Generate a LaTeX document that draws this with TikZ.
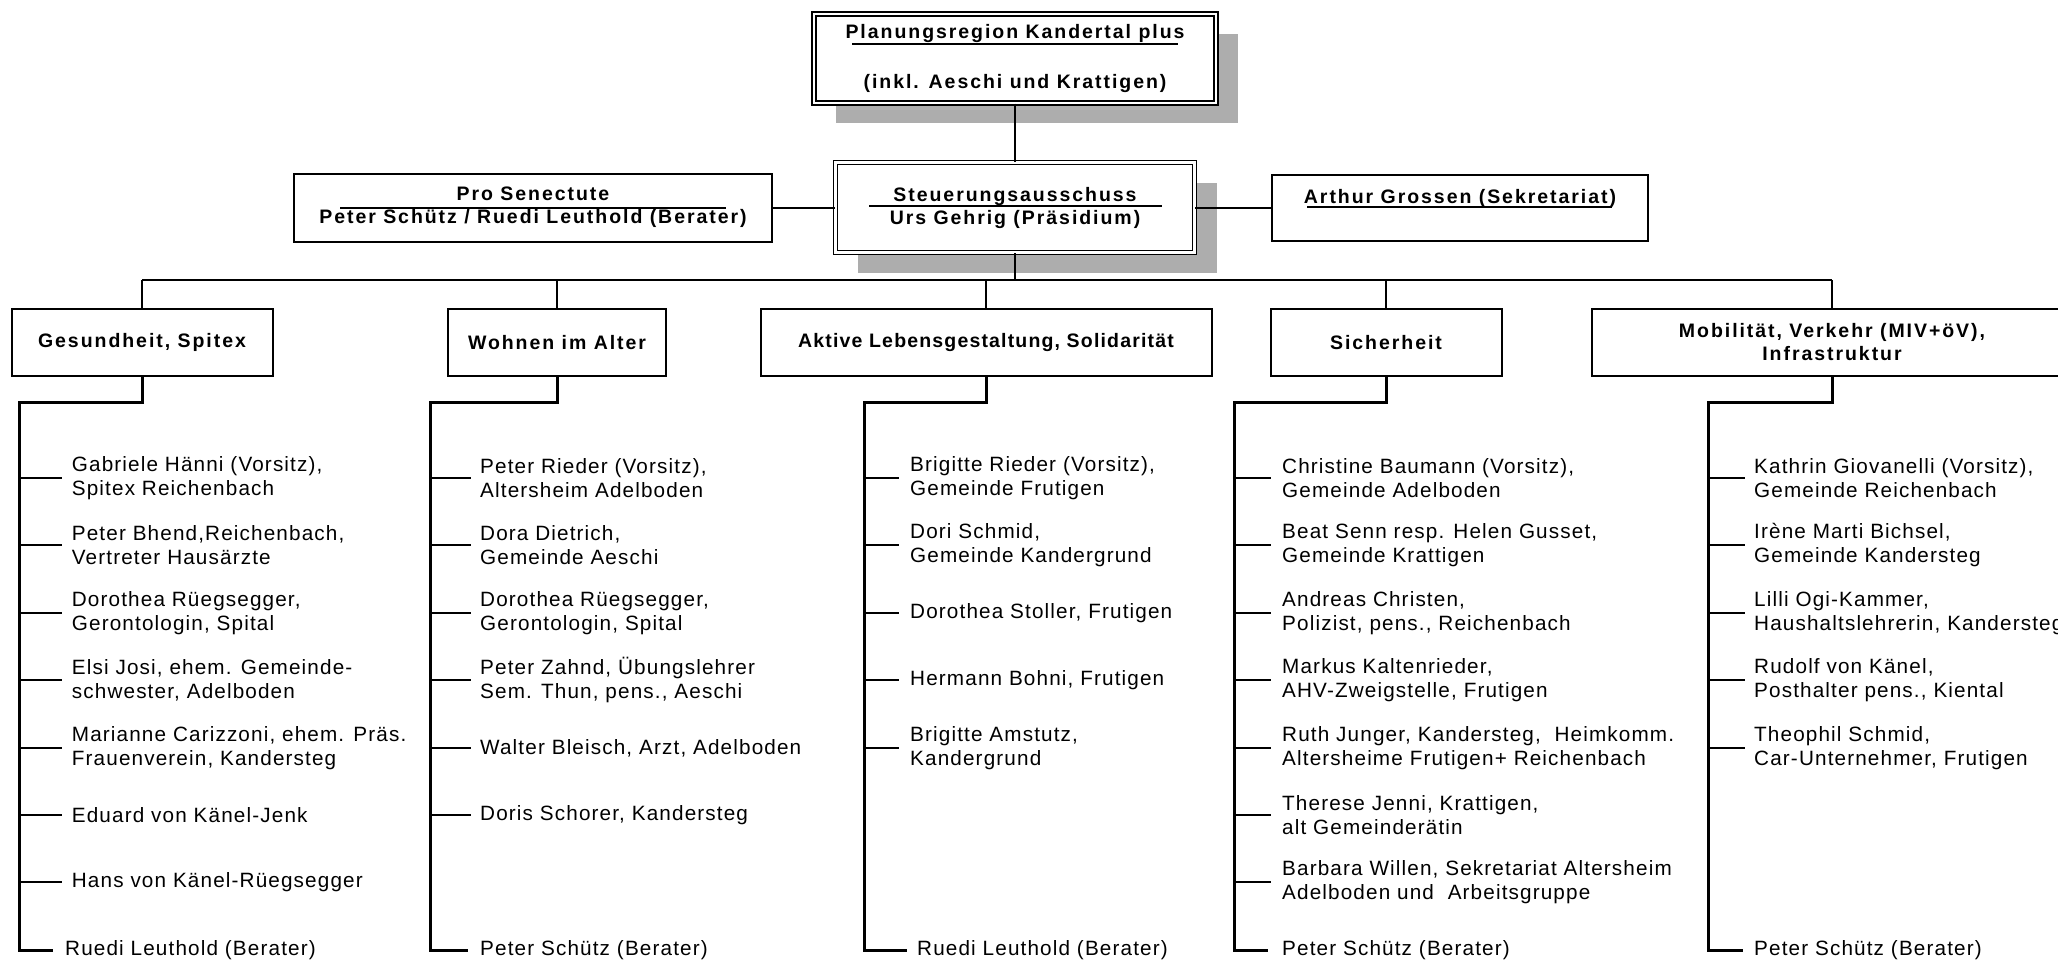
\documentclass[tikz,border=0pt]{standalone}
\usepackage{fontspec}
\setmainfont{Liberation Sans}
\newfontfamily\boxfont[LetterSpace=10]{Liberation Sans}
\newfontfamily\listfont[LetterSpace=5.5]{Liberation Sans}
\usetikzlibrary{positioning, shadows}

\tikzset{
  orgbox/.style={draw, fill=white, line width=2pt, rectangle, inner sep=0pt, align=center,
    font=\boxfont\bfseries\fontsize{19.5}{23}\selectfont},
  headbox/.style={orgbox, double, line width=1.3pt, double distance=2.6pt,
    drop shadow={shadow xshift=22pt, shadow yshift=-20pt, fill=black!32, opacity=1}},
  member/.style={anchor=west, inner sep=0pt, align=left,
    font=\listfont\fontsize{20.7}{24}\selectfont},
  uline/.style={line width=1.5pt},
  busline/.style={line width=2pt},
  stem/.style={line width=3pt},
  twig/.style={line width=2pt}
}

\begin{document}
\begin{tikzpicture}[x=1pt, y=-1pt]
  \useasboundingbox (0,0) rectangle (2058,961);
  \fill[white] (0,0) rectangle (2058,961);
  \clip (0,0) rectangle (2058,961);

  % Leitung
  \node[headbox, minimum width=402pt, minimum height=89pt] (plan) at (1015,58.5)
    {Planungsregion Kandertal plus\\[27pt](inkl. Aeschi und Krattigen)};
  \node[headbox, minimum width=359pt, minimum height=90pt] (steu) at (1015,207.5)
    {Steuerungsausschuss\\Urs Gehrig (Präsidium)};
  \node[orgbox, minimum width=478pt, minimum height=68pt] (pro) at (533,207.5)
    {Pro Senectute\\Peter Schütz / Ruedi Leuthold (Berater)};
  \node[orgbox, minimum width=376pt, minimum height=66pt] (arthur) at (1460,207.5)
    {Arthur Grossen (Sekretariat)\\\mbox{}};

  \draw[uline] (852,44) -- (1178,44);
  \draw[uline] (869,206) -- (1162,206);
  \draw[uline] (340,208) -- (726,208);
  \draw[uline] (1307,207) -- (1612,207);

  \draw[busline] (plan) -- (steu);
  \draw[busline] (pro) -- (steu);
  \draw[busline] (steu) -- (arthur);

  % Arbeitsgruppen
  \node[orgbox, minimum width=261pt, minimum height=67pt] (gesund) at (142,342.5) {Gesundheit, Spitex};
  \node[orgbox, minimum width=218pt, minimum height=67pt] (wohnen) at (557,342.5) {Wohnen im Alter};
  \node[orgbox, minimum width=451pt, minimum height=67pt] (aktiv) at (986,342.5)
    {\addfontfeatures{LetterSpace=6}Aktive Lebensgestaltung, Solidarität};
  \node[orgbox, minimum width=231pt, minimum height=67pt] (sicher) at (1386,342.5) {Sicherheit};
  \node[orgbox, minimum width=480pt, minimum height=67pt] (mobil) at (1832,342.5)
    {Mobilität, Verkehr (MIV+öV),\\Infrastruktur};

  \coordinate (busy) at (0,280);
  \draw[busline] (steu.south) -- (steu.south |- busy);
  \draw[busline] (gesund.north |- busy) -- (mobil.north |- busy);
  \foreach \b in {gesund, wohnen, aktiv, sicher, mobil} {
    \draw[busline] (\b.north |- busy) -- (\b.north);
  }

  % Gesundheit, Spitex
  \coordinate (gesund-top) at (19.5,402.5);
  \node[member] (gesund-b) at (65,950) {Ruedi Leuthold (Berater)};
  \draw[stem] (gesund.south) |- (gesund-top) |- ([xshift=-12pt]gesund-b.west);
  \foreach \txt [count=\k from 0] in {
      {Gabriele Hänni (Vorsitz),\\Spitex Reichenbach},
      {Peter Bhend,Reichenbach,\\Vertreter Hausärzte},
      {Dorothea Rüegsegger,\\Gerontologin, Spital},
      {Elsi Josi, ehem. Gemeinde-\\schwester, Adelboden},
      {Marianne Carizzoni, ehem. Präs.\\Frauenverein, Kandersteg},
      {Eduard von Känel-Jenk},
      {Hans von Känel-Rüegsegger}} {
    \node[member] (gesund-\k) at (71.7,{round(478+67.4*\k)}) {\txt};
    \draw[twig] (gesund-\k.west -| gesund-top) -- ([xshift=-10pt]gesund-\k.west);
  }

  % Wohnen im Alter
  \coordinate (wohnen-top) at (430.5,402.5);
  \node[member] (wohnen-b) at (480,950) {Peter Schütz (Berater)};
  \draw[stem] (wohnen.south) |- (wohnen-top) |- ([xshift=-12pt]wohnen-b.west);
  \foreach \txt [count=\k from 0] in {
      {Peter Rieder (Vorsitz),\\Altersheim Adelboden},
      {Dora Dietrich,\\Gemeinde Aeschi},
      {Dorothea Rüegsegger,\\Gerontologin, Spital},
      {Peter Zahnd, Übungslehrer\\Sem. Thun, pens., Aeschi},
      {Walter Bleisch, Arzt, Adelboden},
      {Doris Schorer, Kandersteg}} {
    \node[member] (wohnen-\k) at (480,{round(478+67.4*\k)}) {\txt};
    \draw[twig] (wohnen-\k.west -| wohnen-top) -- ([xshift=-9pt]wohnen-\k.west);
  }

  % Aktive Lebensgestaltung
  \coordinate (aktiv-top) at (864.5,402.5);
  \node[member] (aktiv-b) at (917,950) {Ruedi Leuthold (Berater)};
  \draw[stem] (aktiv.south) |- (aktiv-top) |- ([xshift=-10pt]aktiv-b.west);
  \foreach \txt [count=\k from 0] in {
      {Brigitte Rieder (Vorsitz),\\Gemeinde Frutigen},
      {Dori Schmid,\\Gemeinde Kandergrund},
      {Dorothea Stoller, Frutigen},
      {Hermann Bohni, Frutigen},
      {Brigitte Amstutz,\\Kandergrund}} {
    \node[member] (aktiv-\k) at (910,{round(478+67.4*\k)}) {\txt};
    \draw[twig] (aktiv-\k.west -| aktiv-top) -- ([xshift=-11pt]aktiv-\k.west);
  }

  % Sicherheit
  \coordinate (sicher-top) at (1234.5,402.5);
  \node[member] (sicher-b) at (1282,950) {Peter Schütz (Berater)};
  \draw[stem] (sicher.south) |- (sicher-top) |- ([xshift=-14pt]sicher-b.west);
  \foreach \txt [count=\k from 0] in {
      {Christine Baumann (Vorsitz),\\Gemeinde Adelboden},
      {Beat Senn resp. Helen Gusset,\\Gemeinde Krattigen},
      {Andreas Christen,\\Polizist, pens., Reichenbach},
      {Markus Kaltenrieder,\\AHV-Zweigstelle, Frutigen},
      {Ruth Junger, Kandersteg,\ \ Heimkomm.\\Altersheime Frutigen+ Reichenbach},
      {Therese Jenni, Krattigen,\\alt Gemeinderätin},
      {Barbara Willen, Sekretariat Altersheim\\Adelboden und\ \ Arbeitsgruppe}} {
    \node[member] (sicher-\k) at (1282,{round(478+67.4*\k)}) {\txt};
    \draw[twig] (sicher-\k.west -| sicher-top) -- ([xshift=-11pt]sicher-\k.west);
  }

  % Mobilitaet, Verkehr
  \coordinate (mobil-top) at (1708.5,402.5);
  \node[member] (mobil-b) at (1754,950) {Peter Schütz (Berater)};
  \draw[stem] (mobil.south) |- (mobil-top) |- ([xshift=-11pt]mobil-b.west);
  \foreach \txt [count=\k from 0] in {
      {Kathrin Giovanelli (Vorsitz),\\Gemeinde Reichenbach},
      {Irène Marti Bichsel,\\Gemeinde Kandersteg},
      {Lilli Ogi-Kammer,\\Haushaltslehrerin, Kandersteg},
      {Rudolf von Känel,\\Posthalter pens., Kiental},
      {Theophil Schmid,\\Car-Unternehmer, Frutigen}} {
    \node[member] (mobil-\k) at (1754,{round(478+67.4*\k)}) {\txt};
    \draw[twig] (mobil-\k.west -| mobil-top) -- ([xshift=-9pt]mobil-\k.west);
  }
\end{tikzpicture}
\end{document}
